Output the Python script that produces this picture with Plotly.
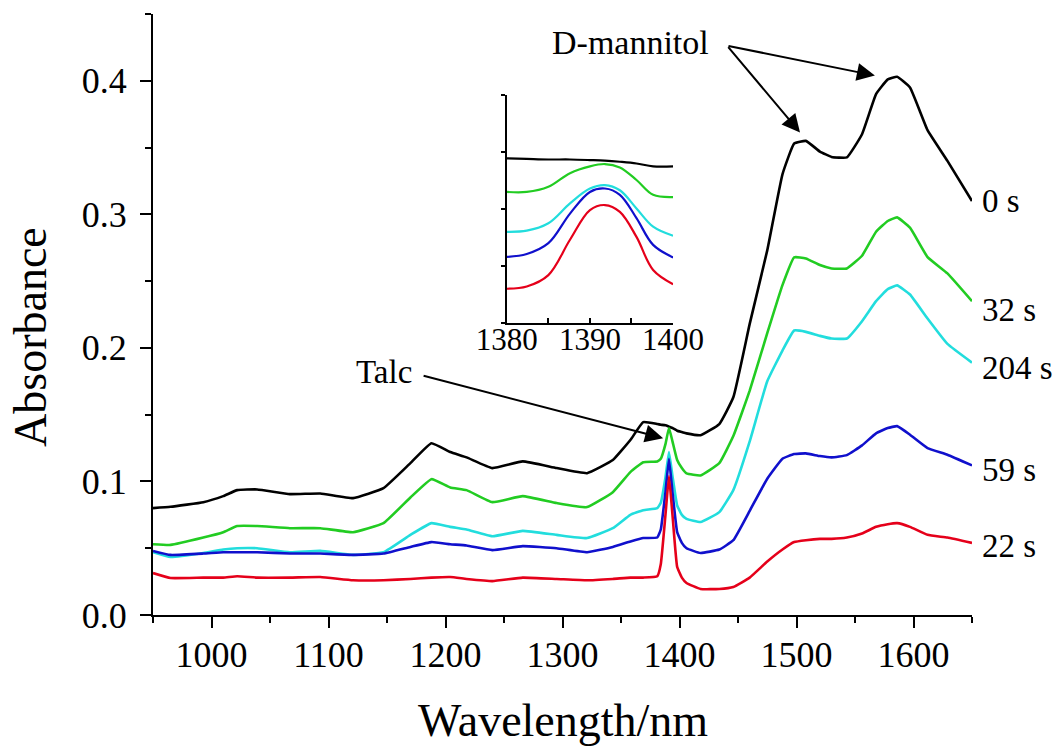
import plotly.graph_objects as go

# Wavelength grid (nm) shared by all spectra
wavelength = [950, 965, 993, 1010, 1022, 1039, 1067, 1093, 1121, 1147, 1170, 1188,
              1204, 1218, 1240, 1266, 1295, 1321, 1343, 1358, 1369, 1381, 1384, 1388,
              1391, 1394, 1398, 1402, 1406, 1418, 1434, 1446, 1460, 1475, 1488, 1498,
              1508, 1520, 1530, 1543, 1556, 1568, 1578, 1586, 1597, 1612, 1629, 1650]

abs_0s = [0.080, 0.081, 0.0845, 0.089, 0.0935, 0.094, 0.0905, 0.091, 0.0875, 0.095, 0.1137, 0.1286,
          0.122, 0.118, 0.110, 0.115, 0.110, 0.1062, 0.116, 0.131, 0.1444, 0.143, 0.1425, 0.142,
          0.141, 0.140, 0.138, 0.137, 0.136, 0.1346, 0.143, 0.163, 0.218, 0.273, 0.330, 0.353,
          0.355, 0.347, 0.343, 0.3426, 0.360, 0.390, 0.401, 0.403, 0.395, 0.363, 0.340, 0.310]

abs_32s = [0.053, 0.0525, 0.058, 0.062, 0.0666, 0.0666, 0.065, 0.065, 0.062, 0.0688, 0.088, 0.1017,
           0.0955, 0.0935, 0.0845, 0.089, 0.0838, 0.0808, 0.092, 0.107, 0.1144, 0.115, 0.117, 0.128,
           0.140, 0.130, 0.116, 0.110, 0.106, 0.1045, 0.1137, 0.134, 0.168, 0.211, 0.247, 0.2678,
           0.267, 0.262, 0.2595, 0.2595, 0.269, 0.287, 0.295, 0.2977, 0.290, 0.268, 0.2558, 0.235]

abs_204s = [0.047, 0.0434, 0.0464, 0.049, 0.050, 0.050, 0.047, 0.048, 0.045, 0.047, 0.060, 0.0688,
            0.066, 0.064, 0.059, 0.063, 0.060, 0.0576, 0.065, 0.075, 0.0785, 0.080, 0.084, 0.103,
            0.122, 0.104, 0.082, 0.075, 0.072, 0.0696, 0.077, 0.0935, 0.130, 0.175, 0.198, 0.213,
            0.212, 0.209, 0.207, 0.207, 0.220, 0.235, 0.244, 0.2468, 0.240, 0.222, 0.203, 0.189]

abs_59s = [0.048, 0.045, 0.046, 0.047, 0.047, 0.047, 0.046, 0.046, 0.045, 0.046, 0.051, 0.0546,
           0.053, 0.052, 0.0486, 0.0516, 0.050, 0.047, 0.051, 0.055, 0.0576, 0.058, 0.064, 0.092,
           0.117, 0.092, 0.062, 0.054, 0.050, 0.0464, 0.049, 0.056, 0.078, 0.102, 0.117, 0.1205,
           0.121, 0.119, 0.118, 0.1197, 0.127, 0.136, 0.140, 0.1414, 0.135, 0.125, 0.120, 0.112]

abs_22s = [0.0314, 0.0277, 0.028, 0.028, 0.029, 0.028, 0.028, 0.0284, 0.026, 0.026, 0.027, 0.028,
           0.0284, 0.027, 0.0254, 0.028, 0.027, 0.026, 0.027, 0.028, 0.028, 0.029, 0.038, 0.075,
           0.104, 0.075, 0.036, 0.028, 0.024, 0.0195, 0.0195, 0.021, 0.028, 0.040, 0.049, 0.0546,
           0.056, 0.057, 0.057, 0.058, 0.061, 0.066, 0.068, 0.0688, 0.066, 0.060, 0.058, 0.054]

# Expanded view of the talc band (relative offsets, arbitrary units)
inset_wl = [1380, 1382.4, 1385, 1387.6, 1390, 1391.8, 1393.6, 1395.6, 1397.6, 1400]
inset_0s = [2.89, 2.88, 2.87, 2.87, 2.86, 2.85, 2.83, 2.80, 2.75, 2.75]
inset_32s = [2.30, 2.30, 2.39, 2.63, 2.75, 2.79, 2.73, 2.51, 2.25, 2.21]
inset_204s = [1.60, 1.62, 1.75, 2.10, 2.36, 2.42, 2.33, 2.01, 1.69, 1.53]
inset_59s = [1.16, 1.21, 1.40, 1.92, 2.30, 2.36, 2.25, 1.84, 1.37, 1.15]
inset_22s = [0.60, 0.64, 0.84, 1.46, 1.98, 2.07, 1.95, 1.51, 0.93, 0.68]

series_labels = ["0 s", "32 s", "204 s", "59 s", "22 s"]
label_y = [0.310, 0.228, 0.185, 0.1085, 0.0516]
colors = ["#000000", "#22cc22", "#22dddd", "#1010cc", "#e5001a"]

FONT = "Liberation Serif"

fig = go.Figure()

main_series = [abs_0s, abs_32s, abs_204s, abs_59s, abs_22s]
inset_series = [inset_0s, inset_32s, inset_204s, inset_59s, inset_22s]

for name, ys, col in zip(series_labels, main_series, colors):
    fig.add_trace(go.Scatter(x=wavelength, y=ys, mode="lines", name=name,
                             line=dict(color=col, width=2.6, shape="spline", smoothing=0.35),
                             showlegend=False, xaxis="x", yaxis="y"))

for name, ys, col in zip(series_labels, inset_series, colors):
    fig.add_trace(go.Scatter(x=inset_wl, y=ys, mode="lines", name=name,
                             line=dict(color=col, width=2.2, shape="spline", smoothing=1.0),
                             showlegend=False, xaxis="x2", yaxis="y2"))

axis_common = dict(showline=True, linecolor="black", linewidth=2, showgrid=False,
                   zeroline=False, tickcolor="black", ticks="outside", mirror=False)

fig.update_layout(
    width=1062, height=751,
    margin=dict(l=153, r=90, t=14, b=136),
    paper_bgcolor="white", plot_bgcolor="white",
    font=dict(family=FONT, color="black"),
    xaxis=dict(range=[950, 1650], tickvals=[1000, 1100, 1200, 1300, 1400, 1500, 1600],
               ticklen=11, tickwidth=2, ticklabelstandoff=-4,
               tickfont=dict(size=36, family=FONT),
               minor=dict(dtick=50, tick0=950, ticks="outside", ticklen=6,
                          tickwidth=2, tickcolor="black"),
               **axis_common),
    yaxis=dict(range=[0, 0.45], tickvals=[0.0, 0.1, 0.2, 0.3, 0.4], tickformat=".1f",
               ticklen=11, tickwidth=2, ticklabelstandoff=6,
               tickfont=dict(size=36, family=FONT),
               minor=dict(dtick=0.05, tick0=0, ticks="outside", ticklen=6,
                          tickwidth=2, tickcolor="black"),
               **axis_common),
    xaxis2=dict(domain=[0.432, 0.635], anchor="y2", range=[1380, 1400],
                tickvals=[1380, 1390, 1400], ticks="inside", ticklen=5, tickwidth=1.5,
                tickcolor="black", tickfont=dict(size=31, family=FONT),
                ticklabelstandoff=-12,
                minor=dict(dtick=5, tick0=1380, ticks="inside", ticklen=5,
                           tickwidth=1.5, tickcolor="black"),
                showline=True, linecolor="black", linewidth=1.5,
                showgrid=False, zeroline=False),
    yaxis2=dict(domain=[0.486, 0.865], anchor="x2", range=[0, 4],
                tickvals=[0, 1, 2, 3, 4], ticks="outside", ticklen=4, tickwidth=1.5,
                tickcolor="black", showticklabels=False,
                showline=True, linecolor="black", linewidth=1.5,
                showgrid=False, zeroline=False),
)

# Axis titles
fig.add_annotation(text="Wavelength/nm", xref="paper", yref="paper", x=0.5, y=-0.175,
                   xanchor="center", yanchor="middle", showarrow=False,
                   font=dict(size=46, family=FONT))
fig.add_annotation(text="Absorbance", xref="paper", yref="paper", x=-0.149, y=0.4626,
                   xanchor="center", yanchor="middle", textangle=-90, showarrow=False,
                   font=dict(size=46, family=FONT))

# Time labels at the right end of each spectrum
for name, yv in zip(series_labels, label_y):
    fig.add_annotation(text=name, xref="paper", yref="y", x=1.01, y=yv, xanchor="left",
                       yanchor="middle", showarrow=False, font=dict(size=33, family=FONT))

# Band assignments
fig.add_annotation(text="D-mannitol", xref="x", yref="y", x=1358.5, y=0.4286,
                   xanchor="center", yanchor="middle", showarrow=False,
                   font=dict(size=34, family=FONT))
for hx, hy in [(1567, 0.4039), (1503, 0.3613)]:
    fig.add_annotation(x=hx, y=hy, ax=1440.6, ay=0.4263, xref="x", yref="y",
                       axref="x", ayref="y", text="", showarrow=True,
                       arrowhead=2, arrowsize=1.8, arrowwidth=2, arrowcolor="black")

fig.add_annotation(text="Talc", xref="x", yref="y", x=1147.4, y=0.1817,
                   xanchor="center", yanchor="middle", showarrow=False,
                   font=dict(size=33, family=FONT))
fig.add_annotation(x=1386, y=0.1324, ax=1180, ay=0.1795, xref="x", yref="y",
                   axref="x", ayref="y", text="", showarrow=True,
                   arrowhead=2, arrowsize=1.8, arrowwidth=2, arrowcolor="black")

fig.write_html("out.html")
